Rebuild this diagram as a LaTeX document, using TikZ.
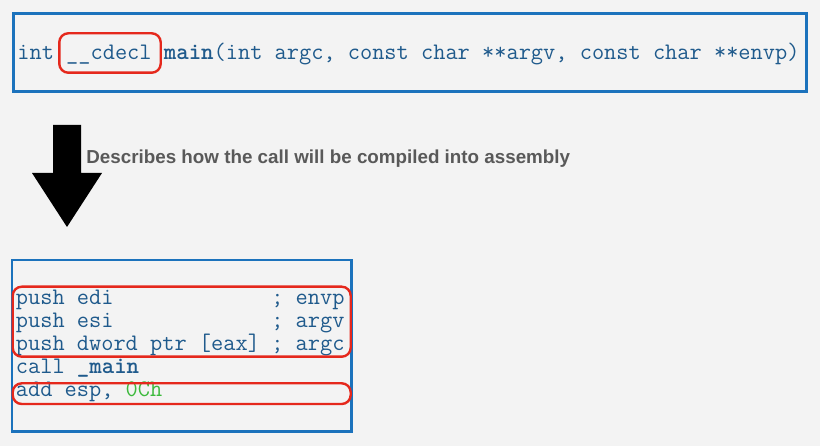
\documentclass[tikz,border=0pt]{standalone}
\usepackage{fontspec}
\setmainfont{Liberation Sans}

\definecolor{pagegray}{HTML}{F3F3F3}
\definecolor{boxblue}{HTML}{1B72BC}
\definecolor{codeblue}{HTML}{1F5A8C}
\definecolor{codegreen}{HTML}{3DBA3D}
\definecolor{hlred}{HTML}{E5281C}
\definecolor{notegray}{HTML}{595959}

\begin{document}
\begin{tikzpicture}[
        x=1pt, y=-1pt, thick,
        codebox/.style={draw=boxblue, line width=2.7pt},
        hlbox/.style={draw=hlred, line width=2.4pt, rounded corners=9pt},
        code/.style={anchor=base west, inner sep=0pt, text=codeblue,
                     font=\ttfamily\fontsize{23.7}{23}\selectfont},
    ]

    \fill[pagegray] (0,0) rectangle (820,446);
    \useasboundingbox (0,0) rectangle (820,446);

    % prototype
    \draw[codebox] (13.3,13.3) rectangle (806.7,91.7);
    \node[code] (proto) at (17,59.3)
        {int \_\_cdecl \textbf{main}(int argc, const char **argv, const char **envp)};
    \draw[hlbox] (59.3,33.3) rectangle (160.7,72.7);

    % arrow and note
    \fill[black] (53,125) -- (81,125) -- (81,173) -- (102,173) -- (67,227)
                 -- (32,173) -- (53,173) -- cycle;
    \node[anchor=base west, inner sep=0pt, text=notegray,
          font=\bfseries\fontsize{18.8}{22}\selectfont] (note) at (86,163.3)
        {Describes how the call will be compiled into assembly};

    % assembly
    \draw[codebox] (12,260) rectangle (351.7,431.7);

    \foreach \n/\y/\txt in {1/305/push edi, 2/328/push esi,
                            3/351/push dword ptr [eax], 4/374/call \textbf{\_main},
                            5/397/{add esp, \textcolor{codegreen}{0Ch}}}
        \node[code] (line\n) at (15.5,\y) {\txt};

    \foreach \n/\y/\txt in {1/305/envp, 2/328/argv, 3/351/argc}
        \node[code] (cmt\n) at (15.5+21*12.16,\y) {; \txt};

    \draw[hlbox] (12.7,286.7) rectangle (350.7,356.7);
    \draw[hlbox] (12.7,383.3) rectangle (350.7,404);

\end{tikzpicture}
\end{document}
